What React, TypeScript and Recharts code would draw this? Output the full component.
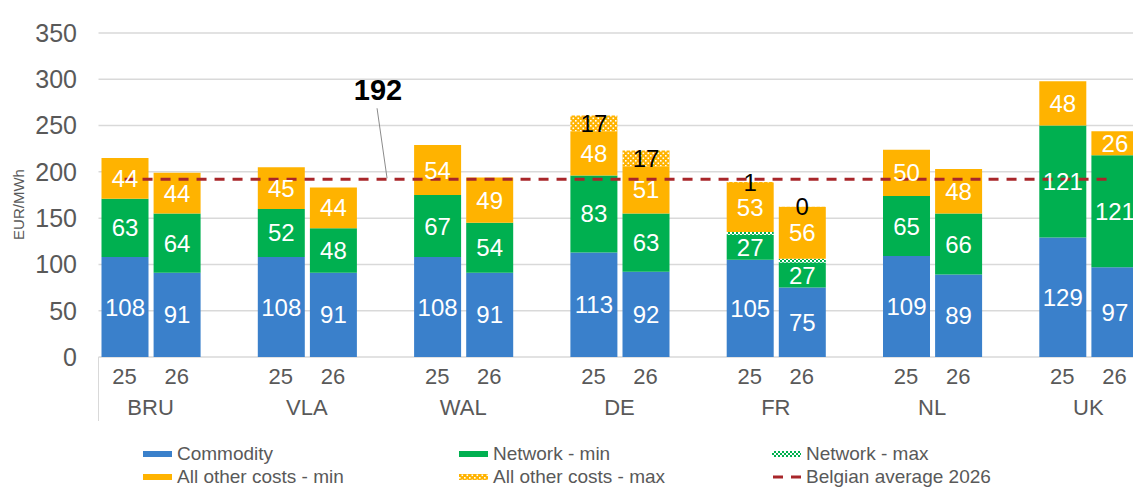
import React from "react";
import { ComposedChart, Bar, Line, XAxis, YAxis, CartesianGrid, LabelList } from "recharts";

const groups = ["BRU", "VLA", "WAL", "DE", "FR", "NL", "UK"];
const years = ["25", "26"];

// 20 slots: per country 25, 26, then an empty spacer (none after UK)
const commodity = [108, 91, null, 108, 91, null, 108, 91, null, 113, 92, null, 105, 75, null, 109, 89, null, 129, 97];
const networkMin = [63, 64, null, 52, 48, null, 67, 54, null, 83, 63, null, 27, 27, null, 65, 66, null, 121, 121];
const networkMax = [0, 0, null, 0, 0, null, 0, 0, null, 0, 0, null, 3, 4, null, 0, 0, null, 0, 0];
const otherMin = [44, 44, null, 45, 44, null, 54, 49, null, 48, 51, null, 53, 56, null, 50, 48, null, 48, 26];
const otherMax = [0, 0, null, 0, 0, null, 0, 0, null, 17, 17, null, 1, 0.3, null, 0, 0, null, 0, 0];
const belgianAvg = 192;
const yTicks = [0, 50, 100, 150, 200, 250, 300, 350];

const data = commodity.map((c, i) => {
  const g = groups[Math.floor(i / 3)];
  const slot = i % 3;
  return {
    key: slot < 2 ? `${g}-${years[slot]}` : `${g}-gap`,
    commodity: c,
    netMin: networkMin[i],
    netMax: networkMax[i],
    otherMin: otherMin[i],
    otherMax: otherMax[i],
    avg: belgianAvg,
  };
});

const BAND = 52.1;
const FONT = "'Liberation Sans', Arial, sans-serif";
const BLUE = "#3A80CB";
const GREEN = "#00B050";
const ORANGE = "#FFB300";
const RED = "#A8262A";
const GREY = "#595959";

const CatTick = (props: any) => {
  const { x, y, payload } = props;
  const [g, yr] = String(payload.value).split("-");
  return (
    <g fontFamily={FONT}>
      {yr !== "gap" && (
        <text x={x} y={y + 19} textAnchor="middle" dominantBaseline="central" fontSize={22} fill={GREY}>
          {yr}
        </text>
      )}
      {yr === "25" && (
        <text x={x + BAND / 2} y={y + 50} textAnchor="middle" dominantBaseline="central" fontSize={22} fill={GREY}>
          {g}
        </text>
      )}
      {g === "BRU" && yr === "25" && (
        <line x1={x - BAND / 2} x2={x - BAND / 2} y1={y} y2={y + 64} stroke="#d9d9d9" strokeWidth={1} />
      )}
    </g>
  );
};

const inLabel = (color: string, hideZero: boolean) => (p: any) => {
  const { x, y, width, height, value } = p;
  if (value == null || (hideZero && value === 0)) return <g />;
  return (
    <text
      x={x + width / 2}
      y={y + height / 2}
      textAnchor="middle"
      dominantBaseline="central"
      fontSize={24}
      fontFamily={FONT}
      fill={color}
    >
      {Math.round(value)}
    </text>
  );
};

const avgLabel = (p: any) => {
  if (p.index !== 5) return <g />;
  const { x, y } = p;
  return (
    <g>
      <line x1={x - 8} y1={y - 71} x2={x + 2} y2={y - 1} stroke="#8c8c8c" strokeWidth={1} />
      <text x={x - 7} y={y - 79} textAnchor="middle" fontSize={29} fontWeight="bold" fontFamily={FONT} fill="#000">
        192
      </text>
    </g>
  );
};

const Patterns = ({ suffix = "" }: { suffix?: string }) => (
  <defs>
    <pattern id={`pOther${suffix}`} width="5" height="5" patternUnits="userSpaceOnUse">
      <rect width="5" height="5" fill={ORANGE} />
      <rect x="0" y="0" width="1.6" height="1.6" fill="#fff" />
      <rect x="2.5" y="2.5" width="1.6" height="1.6" fill="#fff" />
    </pattern>
    <pattern id={`pNet${suffix}`} width="4" height="4" patternUnits="userSpaceOnUse">
      <rect width="4" height="4" fill="#fff" />
      <rect x="0" y="0" width="2" height="2" fill={GREEN} />
      <rect x="2" y="2" width="2" height="2" fill={GREEN} />
    </pattern>
  </defs>
);

type Item = { label: string; kind: "solid" | "pattern" | "dash"; color: string; col: number; row: number };
const legendItems: Item[] = [
  { label: "Commodity", kind: "solid", color: BLUE, col: 0, row: 0 },
  { label: "Network - min", kind: "solid", color: GREEN, col: 1, row: 0 },
  { label: "Network - max", kind: "pattern", color: "pNetL", col: 2, row: 0 },
  { label: "All other costs - min", kind: "solid", color: ORANGE, col: 0, row: 1 },
  { label: "All other costs - max", kind: "pattern", color: "pOtherL", col: 1, row: 1 },
  { label: "Belgian average 2026", kind: "dash", color: RED, col: 2, row: 1 },
];
const colX = [143, 459, 772];
const rowY = [454, 477];

const Swatch = ({ it }: { it: Item }) => (
  <svg width={30} height={10} style={{ display: "block" }}>
    <Patterns suffix="L" />
    {it.kind === "solid" && <rect x={0} y={2} width={29} height={6} fill={it.color} />}
    {it.kind === "pattern" && <rect x={0} y={2} width={29} height={6} fill={`url(#${it.color})`} />}
    {it.kind === "dash" && (
      <line x1={1} x2={29} y1={5} y2={5} stroke={it.color} strokeWidth={3} strokeDasharray="10 8" />
    )}
  </svg>
);

export default function App() {
  return (
    <div
      style={{
        position: "absolute",
        left: 0,
        top: 0,
        width: 1133,
        height: 487,
        overflow: "hidden",
        background: "#fff",
        fontFamily: FONT,
      }}
    >
      <ComposedChart
        width={1150}
        height={487}
        data={data}
        margin={{ top: 33, right: 9.5, left: 0, bottom: 0 }}
        barCategoryGap={0}
      >
        <Patterns />
        <CartesianGrid vertical={false} stroke="#d9d9d9" strokeWidth={1.5} />
        <XAxis
          dataKey="key"
          interval={0}
          tickLine={false}
          axisLine={false}
          tickSize={0}
          tickMargin={0}
          height={130}
          tick={<CatTick />}
        />
        <YAxis
          domain={[0, 350]}
          ticks={yTicks}
          width={98.5}
          tickLine={false}
          axisLine={false}
          tickSize={0}
          tickMargin={21.5}
          tick={{ fontSize: 25, fill: GREY, fontFamily: FONT }}
        />
        <Bar dataKey="commodity" stackId="s" fill={BLUE} barSize={47} isAnimationActive={false}>
          <LabelList dataKey="commodity" content={inLabel("#fff", false)} />
        </Bar>
        <Bar dataKey="netMin" stackId="s" fill={GREEN} barSize={47} isAnimationActive={false}>
          <LabelList dataKey="netMin" content={inLabel("#fff", false)} />
        </Bar>
        <Bar dataKey="netMax" stackId="s" fill="url(#pNet)" barSize={47} isAnimationActive={false} />
        <Bar dataKey="otherMin" stackId="s" fill={ORANGE} barSize={47} isAnimationActive={false}>
          <LabelList dataKey="otherMin" content={inLabel("#fff", false)} />
        </Bar>
        <Bar dataKey="otherMax" stackId="s" fill="url(#pOther)" barSize={47} isAnimationActive={false}>
          <LabelList dataKey="otherMax" content={inLabel("#000", true)} />
        </Bar>
        <Line
          dataKey="avg"
          stroke={RED}
          strokeWidth={3}
          strokeDasharray="10 8"
          dot={false}
          activeDot={false}
          isAnimationActive={false}
          label={avgLabel}
        />
      </ComposedChart>
      <div
        style={{
          position: "absolute",
          left: 3,
          top: 159,
          height: 90,
          width: 30,
          display: "flex",
          alignItems: "center",
          justifyContent: "center",
        }}
      >
        <span
          style={{
            transform: "rotate(-90deg)",
            whiteSpace: "nowrap",
            fontSize: 15,
            color: GREY,
          }}
        >
          EUR/MWh
        </span>
      </div>
      {legendItems.map((it) => (
        <div
          key={it.label}
          style={{
            position: "absolute",
            left: colX[it.col],
            top: rowY[it.row] - 11,
            height: 22,
            display: "flex",
            alignItems: "center",
            gap: 4,
            fontSize: 19,
            color: GREY,
            whiteSpace: "nowrap",
          }}
        >
          <Swatch it={it} />
          <span>{it.label}</span>
        </div>
      ))}
    </div>
  );
}
